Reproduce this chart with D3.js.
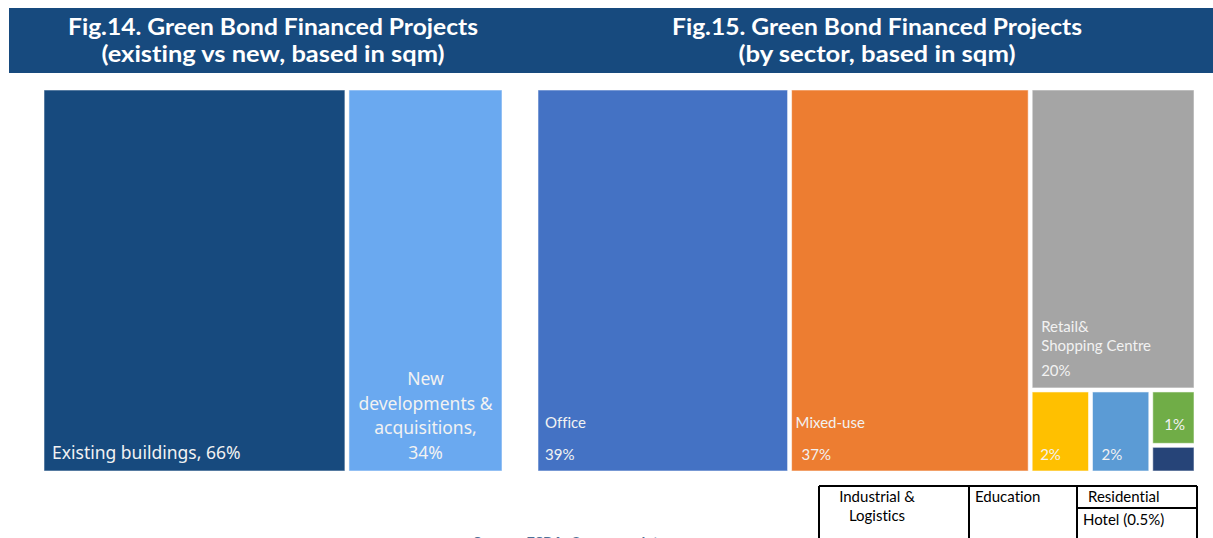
<!DOCTYPE html>
<html>
<head>
<meta charset="utf-8">
<script src="https://cdn.jsdelivr.net/npm/d3@7/dist/d3.min.js"></script>
<style>
  html, body { margin: 0; padding: 0; background: #ffffff; }
  svg { display: block; }
  text { font-variant-ligatures: none; font-feature-settings: "liga" 0, "clig" 0; }
</style>
</head>
<body>
<svg id="chart" width="1213" height="538"></svg>
<script>
// Fig.14 – share of floor area, existing vs new
const fig14Categories = ["Existing buildings", "New developments & acquisitions"];
const fig14Values = [66, 34];
const fig14Colors = ["#174A7E", "#6AA9F0"];

// Fig.15 – share of floor area by sector
const fig15Categories = ["Office", "Mixed-use", "Retail& Shopping Centre", "Industrial & Logistics", "Education", "Residential", "Hotel"];
const fig15Values = [39, 37, 20, 2, 2, 1, 0.5];
const fig15Colors = ["#4472C4", "#ED7D31", "#A5A5A5", "#FFC000", "#5B9BD5", "#70AD47", "#264478"];

// Titles
const titles = [
  ["Fig.14. Green Bond Financed Projects", "(existing vs new, based in sqm)"],
  ["Fig.15. Green Bond Financed Projects", "(by sector, based in sqm)"]
];

// Legend table entries for the small sectors
const legendCells = ["Industrial &\nLogistics", "Education", "Residential", "Hotel (0.5%)"];

const svg = d3.select("#chart");
const labelFill = "#F2F2F2";

// ---- header band ----
svg.append("rect").attr("x", 9).attr("y", 8).attr("width", 1204).attr("height", 65).attr("fill", "#174A7E");
const titleCenters = [273, 877];
const titleWidths = [[410, 343], [410, 277]];
titles.forEach((lines, i) => {
  lines.forEach((t, j) => {
    svg.append("text")
      .attr("x", titleCenters[i]).attr("y", 35 + j * 27)
      .attr("text-anchor", "middle")
      .attr("font-family", "Lato, 'Open Sans', sans-serif")
      .attr("font-weight", "bold").attr("font-size", 23)
      .attr("fill", "#ffffff")
      .attr("textLength", titleWidths[i][j]).attr("lengthAdjust", "spacingAndGlyphs")
      .text(t);
  });
});

// ---- Fig.14 treemap ----
const f14 = { x: 44, y: 90, w: 458, h: 381 };
const root14 = d3.hierarchy({ children: fig14Categories.map((c, i) => ({ name: c, value: fig14Values[i], color: fig14Colors[i] })) })
  .sum(d => d.value || 0);
d3.treemap().tile(d3.treemapDice).size([f14.w, f14.h]).paddingInner(4)(root14);

const g14 = svg.append("g").attr("transform", `translate(${f14.x},${f14.y})`);
const leaves14 = root14.leaves();
g14.selectAll("rect").data(leaves14).join("rect")
  .attr("x", d => d.x0).attr("y", d => d.y0)
  .attr("width", d => d.x1 - d.x0).attr("height", d => d.y1 - d.y0)
  .attr("fill", d => d.data.color)
  .attr("stroke", "#ffffff").attr("stroke-opacity", 0.55).attr("stroke-width", 1);

// Existing buildings label, bottom-left
const big = leaves14[0];
g14.append("text")
  .attr("x", big.x0 + 8).attr("y", big.y1 - 12)
  .attr("font-family", "'Noto Sans', 'Open Sans', sans-serif").attr("font-size", 17.5)
  .attr("fill", labelFill)
  .text(`${big.data.name}, ${big.data.value}%`);

// New developments label, centred, wrapped
const small = leaves14[1];
const newLines = ["New", "developments &", "acquisitions,", `${small.data.value}%`];
newLines.forEach((t, j) => {
  g14.append("text")
    .attr("x", (small.x0 + small.x1) / 2)
    .attr("y", small.y1 - 12 - (newLines.length - 1 - j) * 24.7)
    .attr("text-anchor", "middle")
    .attr("font-family", "'Noto Sans', 'Open Sans', sans-serif").attr("font-size", 17.5)
    .attr("fill", labelFill)
    .text(t);
});

// ---- Fig.15 treemap ----
const f15 = { x: 538, y: 90, w: 656, h: 381 };
const leaf = i => ({ name: fig15Categories[i], value: fig15Values[i], color: fig15Colors[i], idx: i });
const tree15 = {
  children: [
    leaf(0), leaf(1),
    { children: [
      leaf(2),
      { children: [ leaf(3), leaf(4), { children: [leaf(5), leaf(6)] } ] }
    ] }
  ]
};
const root15 = d3.hierarchy(tree15).sum(d => d.value || 0);
d3.treemap().tile(d3.treemapSliceDice).size([f15.w, f15.h]).paddingInner(4)(root15);

const g15 = svg.append("g").attr("transform", `translate(${f15.x},${f15.y})`);
const leaves15 = root15.leaves();
g15.selectAll("rect").data(leaves15).join("rect")
  .attr("x", d => d.x0).attr("y", d => d.y0)
  .attr("width", d => d.x1 - d.x0).attr("height", d => d.y1 - d.y0)
  .attr("fill", d => d.data.color)
  .attr("stroke", "#ffffff").attr("stroke-opacity", 0.55).attr("stroke-width", 1);

const font15 = "Lato, 'Open Sans', sans-serif";
const byIdx = {};
leaves15.forEach(d => { byIdx[d.data.idx] = d; });

function label15(d, lines) {
  lines.forEach(l => {
    g15.append("text")
      .attr("x", l.anchor === "end" ? d.x1 - l.dx : d.x0 + l.dx)
      .attr("y", d.y1 - l.dy)
      .attr("text-anchor", l.anchor || "start")
      .attr("font-family", font15).attr("font-size", 15)
      .attr("fill", labelFill)
      .text(l.t);
  });
}
label15(byIdx[0], [{ t: "Office", dx: 7, dy: 43 }, { t: `${fig15Values[0]}%`, dx: 7, dy: 11 }]);
label15(byIdx[1], [{ t: "Mixed-use", dx: 4, dy: 43 }, { t: `${fig15Values[1]}%`, dx: 10, dy: 11 }]);
label15(byIdx[2], [
  { t: "Retail&", dx: 9, dy: 56 },
  { t: "Shopping Centre", dx: 9, dy: 37 },
  { t: `${fig15Values[2]}%`, dx: 9, dy: 12 }
]);
label15(byIdx[3], [{ t: `${fig15Values[3]}%`, dx: 8, dy: 11 }]);
label15(byIdx[4], [{ t: `${fig15Values[4]}%`, dx: 9, dy: 11 }]);
label15(byIdx[5], [{ t: `${fig15Values[5]}%`, dx: 9, dy: 13, anchor: "end" }]);

// ---- legend table for the small sectors ----
const tbl = svg.append("g");
const tblLines = [
  [819, 486, 1197, 486], [819, 486, 819, 540], [969, 486, 969, 540],
  [1077, 486, 1077, 540], [1197, 486, 1197, 540], [1077, 508, 1197, 508]
];
tblLines.forEach(l => {
  tbl.append("line").attr("x1", l[0]).attr("y1", l[1]).attr("x2", l[2]).attr("y2", l[3])
    .attr("stroke", "#000000").attr("stroke-width", 2);
});
const cellPos = [
  { x: 877, y: 502, anchor: "middle", dy: 19 },
  { x: 975, y: 502, anchor: "start" },
  { x: 1088, y: 502, anchor: "start" },
  { x: 1083, y: 525, anchor: "start" }
];
legendCells.forEach((c, i) => {
  c.split("\n").forEach((t, j) => {
    tbl.append("text")
      .attr("x", cellPos[i].x).attr("y", cellPos[i].y + j * (cellPos[i].dy || 0))
      .attr("text-anchor", cellPos[i].anchor)
      .attr("font-family", font15).attr("font-size", 15)
      .attr("fill", "#000000")
      .text(t);
  });
});

// ---- source note (runs off the bottom edge) ----
svg.append("text")
  .attr("x", 473).attr("y", 548)
  .attr("font-family", font15).attr("font-weight", "bold").attr("font-size", 15)
  .attr("fill", "#4D6F96")
  .text("Source: ESRA, Company data");
</script>
</body>
</html>
